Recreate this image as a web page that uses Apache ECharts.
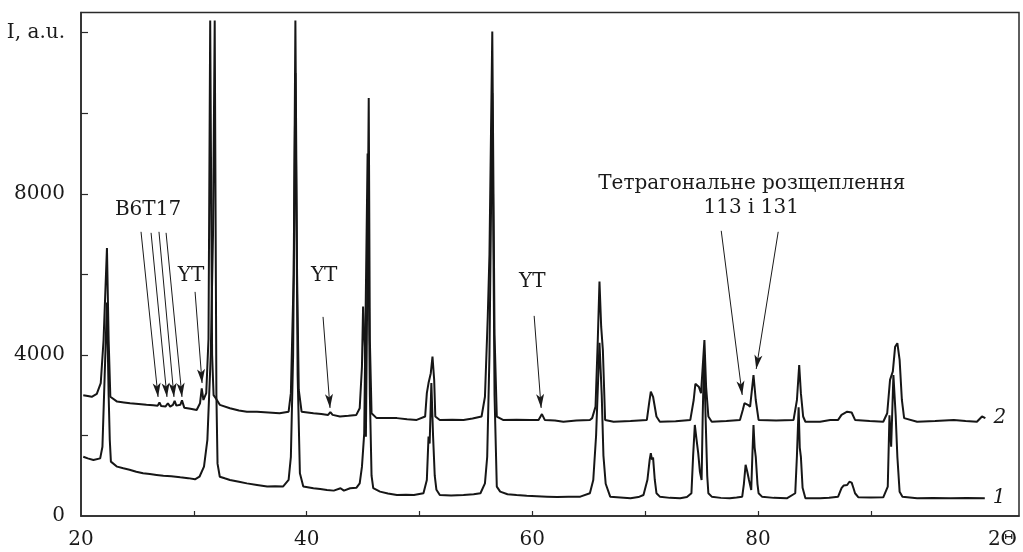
<!DOCTYPE html>
<html><head><meta charset="utf-8">
<script src="https://cdn.jsdelivr.net/npm/echarts@6/dist/echarts.min.js"></script>
<style>html,body{margin:0;padding:0;background:#fff}#c{width:1023px;height:552px}</style>
</head><body><div id="c"></div>
<script>
const xTickValues = [30, 40, 50, 60, 70, 80, 90];
const xLabelValues = [20, 40, 60, 80];
const yTickValues = [2000, 4000, 6000, 8000, 10000, 12000];
const yLabelValues = [0, 4000, 8000, 12000];
const yAxisTitle = 'I, a.u.';
const xAxisTitle = '2Θ';

// curve 1 (lower pattern): [2Θ, intensity]
const curve1 = [[20.2,1470],[20.6,1430],[21.1,1390],[21.7,1430],[21.9,1720],[22.1,3500],[22.3,5300],[22.45,3000],[22.55,1890],[22.65,1350],[23.2,1225],[23.75,1185],[24.3,1150],[24.9,1100],[25.5,1060],[26.1,1040],[26.7,1020],[27.3,1000],[28.0,985],[28.8,960],[29.5,940],[30.1,910],[30.5,975],[30.9,1225],[31.2,1890],[31.5,4000],[31.7,7000],[31.85,12300],[32.0,3000],[32.1,1300],[32.3,975],[32.8,930],[33.2,895],[34.0,850],[34.7,810],[35.6,770],[36.5,730],[37.2,740],[37.9,730],[38.4,895],[38.6,1470],[38.8,4000],[39.0,11000],[39.2,3500],[39.4,1060],[39.7,730],[40.6,690],[41.2,670],[41.8,645],[42.4,630],[43.0,690],[43.3,630],[43.85,690],[44.4,700],[44.7,810],[44.9,1225],[45.1,2050],[45.2,4500],[45.4,9000],[45.6,3000],[45.75,1000],[45.9,690],[46.5,605],[47.2,560],[48.0,520],[48.8,530],[49.5,520],[50.35,565],[50.65,895],[50.8,1970],[50.9,1800],[51.05,3300],[51.2,2000],[51.35,1000],[51.5,650],[51.8,520],[52.8,510],[53.9,520],[54.8,540],[55.4,565],[55.8,810],[56.0,1470],[56.2,4000],[56.45,10500],[56.65,3000],[56.85,730],[57.15,605],[57.8,540],[58.6,520],[59.5,500],[60.4,490],[61.3,480],[62.2,470],[63.2,480],[64.25,480],[65.1,565],[65.4,895],[65.65,2000],[65.95,4300],[66.15,3000],[66.3,1500],[66.5,800],[66.9,480],[67.8,460],[68.7,440],[69.4,470],[69.85,520],[70.2,900],[70.4,1400],[70.5,1560],[70.6,1400],[70.7,1450],[70.85,900],[71.0,565],[71.3,480],[72.2,450],[73.1,440],[73.7,470],[74.1,565],[74.25,1500],[74.4,2260],[74.55,1900],[74.7,1560],[74.85,1100],[75.0,895],[75.1,2500],[75.22,4000],[75.35,2500],[75.5,1000],[75.6,565],[75.9,480],[76.7,450],[77.5,440],[78.1,460],[78.6,480],[78.75,800],[78.9,1270],[79.05,1100],[79.2,895],[79.4,645],[79.5,1500],[79.6,2260],[79.7,1700],[79.8,1470],[79.95,800],[80.05,565],[80.35,480],[81.4,450],[82.55,440],[83.3,565],[83.45,1500],[83.6,2700],[83.7,1700],[83.8,1470],[83.95,700],[84.2,440],[85.5,440],[86.3,455],[87.1,480],[87.4,690],[87.6,760],[87.9,770],[88.1,850],[88.3,830],[88.45,700],[88.6,565],[88.9,465],[90.0,460],[91.1,465],[91.5,730],[91.65,2500],[91.8,1720],[92.0,3500],[92.2,2500],[92.35,1470],[92.55,600],[92.8,480],[94.1,440],[95.5,445],[97.05,440],[98.5,445],[100.1,440]];

// curve 2 (upper pattern): [2Θ, intensity]
const curve2 = [[20.2,3000],[20.6,2980],[20.95,2960],[21.4,3030],[21.75,3300],[22.0,4370],[22.3,6650],[22.45,4370],[22.6,2960],[23.2,2840],[23.8,2820],[24.35,2800],[25.1,2780],[25.8,2760],[26.4,2750],[26.8,2740],[26.95,2820],[27.1,2730],[27.5,2720],[27.7,2800],[27.9,2715],[28.15,2760],[28.3,2860],[28.45,2740],[28.6,2730],[28.8,2760],[28.95,2870],[29.15,2690],[29.7,2660],[30.25,2630],[30.55,2800],[30.7,3170],[30.85,2880],[31.1,3050],[31.3,4400],[31.45,12300],[31.62,4000],[31.75,3000],[32.0,2900],[32.3,2760],[33.2,2675],[34.0,2620],[34.7,2590],[35.6,2590],[36.6,2570],[37.6,2550],[38.4,2590],[38.6,3050],[38.85,6000],[39.0,12300],[39.15,6000],[39.3,3130],[39.55,2590],[40.6,2550],[41.3,2530],[41.9,2510],[42.1,2580],[42.3,2510],[42.95,2470],[43.7,2490],[44.4,2510],[44.7,2675],[44.9,3710],[45.0,5200],[45.15,4200],[45.25,1970],[45.35,5000],[45.5,10380],[45.6,4370],[45.75,2550],[46.2,2430],[47.1,2430],[48.0,2430],[48.9,2400],[49.75,2385],[50.5,2470],[50.65,3050],[50.8,3300],[51.0,3545],[51.15,3960],[51.3,3380],[51.4,2470],[51.8,2385],[52.9,2390],[53.9,2385],[54.7,2420],[55.5,2470],[55.8,2960],[56.05,4950],[56.2,6500],[56.45,12030],[56.65,4500],[56.85,2470],[57.4,2385],[58.6,2390],[59.8,2385],[60.55,2385],[60.85,2530],[61.1,2385],[62.0,2370],[62.75,2340],[63.9,2370],[65.1,2385],[65.3,2430],[65.6,2715],[65.8,4370],[65.95,5820],[66.1,4700],[66.25,4120],[66.45,2385],[67.2,2340],[68.7,2360],[70.15,2385],[70.35,2800],[70.5,3090],[70.7,2960],[71.0,2470],[71.3,2340],[72.7,2350],[74.0,2385],[74.3,2880],[74.45,3280],[74.75,3210],[74.95,3050],[75.25,4370],[75.4,3210],[75.6,2470],[75.9,2340],[77.2,2360],[78.4,2385],[78.65,2630],[78.8,2800],[79.1,2760],[79.3,2715],[79.6,3500],[79.8,2880],[80.05,2385],[81.6,2370],[83.15,2385],[83.45,2880],[83.65,3750],[83.8,3050],[84.0,2470],[84.2,2340],[85.5,2340],[86.4,2385],[87.1,2385],[87.4,2510],[87.9,2590],[88.3,2570],[88.6,2385],[89.9,2360],[91.1,2340],[91.45,2550],[91.7,3380],[91.95,3590],[92.15,4200],[92.35,4290],[92.55,3875],[92.75,2880],[92.95,2430],[94.1,2340],[95.7,2360],[97.35,2385],[98.4,2360],[99.4,2340],[99.85,2470],[100.15,2430]];

// annotation arrows: [from, to] in data coordinates
const arrowLines = [
  [[25.32,7055],[26.83,2956]],
  [[26.21,7030],[27.62,2956]],
  [[26.91,7055],[28.24,2956]],
  [[27.54,7030],[28.95,2956]],
  [[30.11,5564],[30.73,3300]],
  [[41.45,4943],[42.07,2683]],
  [[60.16,4968],[60.78,2683]],
  [[76.74,7080],[78.6,3006]],
  [[81.79,7055],[79.84,3651]]
];
// annotation texts
const noteTexts = ['B6T17', 'YT', 'YT', 'YT', 'Тетрагональне розщеплення', '113 і 131'];
const noteCoords = [[25.94,7600],[29.75,5962],[41.55,5962],[60.0,5813],[79.45,8250],[79.4,7651]];
const seriesNames = ['1', '2'];

const FONT = 'DejaVu Serif';
const chart = echarts.init(document.getElementById('c'), null, {renderer: 'canvas'});
const lineCol = '#161616';

chart.setOption({
  animation: false,
  backgroundColor: '#fff',
  grid: {left: 81, right: 4, top: 12.5, bottom: 36, show: true, borderColor: '#2a2a2a', borderWidth: 1.5},
  xAxis: {
    type: 'value', min: 20, max: 103.13,
    axisLine: {show: true, onZero: false, lineStyle: {color: '#2a2a2a', width: 1.5}},
    axisTick: {show: true, inside: true, length: 5, customValues: xTickValues, lineStyle: {color: '#2a2a2a', width: 1.2}},
    axisLabel: {customValues: xLabelValues, color: '#1a1a1a', fontFamily: FONT, fontSize: 20, margin: 14},
    splitLine: {show: false}
  },
  yAxis: {
    type: 'value', min: 0, max: 12500,
    axisLine: {show: true, onZero: false, lineStyle: {color: '#2a2a2a', width: 1.5}},
    axisTick: {show: true, inside: true, length: 7, customValues: yTickValues, lineStyle: {color: '#2a2a2a', width: 1.2}},
    axisLabel: {customValues: yLabelValues, color: '#1a1a1a', fontFamily: FONT, fontSize: 20, margin: 16,
      formatter: v => v === 12000 ? yAxisTitle : String(v)},
    splitLine: {show: false}
  },
  graphic: [{type: 'text', x: 1017, y: 540, z: 10,
    style: {text: xAxisTitle, fontFamily: FONT, fontSize: 20, fill: '#1a1a1a', align: 'right', verticalAlign: 'middle'}}],
  series: [
    {
      name: seriesNames[0], type: 'line', data: curve1, showSymbol: false,
      lineStyle: {color: lineCol, width: 2}, z: 3,
      endLabel: {show: true, formatter: seriesNames[0], fontFamily: FONT, fontStyle: 'italic', fontSize: 20, color: '#1a1a1a', distance: 8}
    },
    {
      name: seriesNames[1], type: 'line', data: curve2, showSymbol: false,
      lineStyle: {color: lineCol, width: 2}, z: 3,
      endLabel: {show: true, formatter: seriesNames[1], fontFamily: FONT, fontStyle: 'italic', fontSize: 20, color: '#1a1a1a', distance: 8},
      markLine: {
        silent: true, animation: false,
        symbol: ['none', 'arrow'], symbolSize: 10,
        label: {show: false},
        lineStyle: {color: '#1a1a1a', width: 1, type: 'solid'},
        itemStyle: {color: '#1a1a1a'},
        data: arrowLines.map(a => [{coord: a[0], symbol: 'none'}, {coord: a[1], symbol: 'arrow', symbolSize: [6, 14]}])
      },
      markPoint: {
        silent: true, animation: false,
        symbol: 'circle', symbolSize: 0,
        label: {show: true, position: 'inside', formatter: '{b}', fontFamily: FONT, fontSize: 20, color: '#1a1a1a'},
        data: noteTexts.map((t, i) => ({name: t, coord: noteCoords[i]}))
      }
    }
  ]
});
</script></body></html>
